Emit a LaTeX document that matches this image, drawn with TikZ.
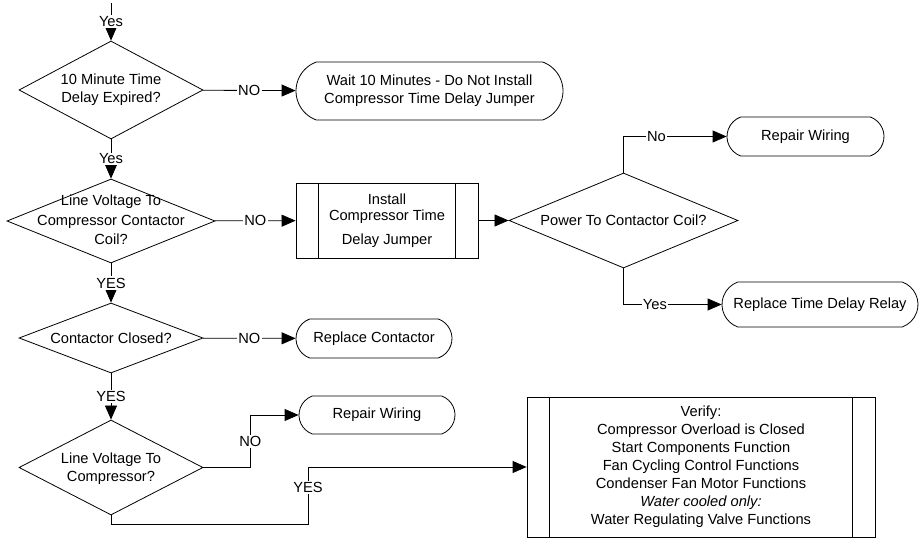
\documentclass[tikz,border=0pt]{standalone}
\usepackage{fontspec}
\setmainfont{Liberation Sans}
\usepackage{tikz}
\usetikzlibrary{shapes.geometric,shapes.misc,arrows.meta}
\tikzset{decision node/.style 2 args={diamond,draw,inner sep=0pt,minimum width=#1*0.75pt,minimum height=#2*0.75pt},
	question/.style={align=center,inner sep=0pt},
	end node/.style 2 args={rounded rectangle,rounded rectangle arc length=140,draw,align=center,inner sep=0pt,minimum width=#1*0.75pt,minimum height=#2*0.75pt},
	process node/.style 2 args={rectangle,draw,align=center,inner sep=0pt,minimum width=#1*0.75pt,minimum height=#2*0.75pt,
		path picture={
			\draw ([xshift=17pt]path picture bounding box.north west) -- ([xshift=17pt]path picture bounding box.south west);
			\draw ([xshift=-17pt]path picture bounding box.north east) -- ([xshift=-17pt]path picture bounding box.south east);}},
	line label/.style={fill=white,inner sep=1pt},
	flow/.style={draw,->},
}

\begin{document}
\begin{tikzpicture}[x=0.75pt,y=-0.75pt,line width=0.6pt,>={Triangle[length=10.5pt,width=9pt]},font=\fontsize{11}{13.5}\selectfont]
	\useasboundingbox (0,0) rectangle (922,538);
	
	%% decisions
	\node[decision node={184}{98}] (q1) at (111,90) {};
	\node[question] (q1 text) at (q1) {10 Minute Time\\Delay Expired?};
	\node[decision node={208}{84}] (q2) at (111,221) {};
	\node[question] (q2 text) at (111,220) {Line Voltage To\\[1pt]Compressor Contactor\\[1pt]Coil?};
	\node[decision node={229}{95}] (q3) at (623.5,220.5) {};
	\node[question] (q3 text) at (q3) {Power To Contactor Coil?};
	\node[decision node={184}{70}] (q4) at (111,338) {};
	\node[question] (q4 text) at (q4) {Contactor Closed?};
	\node[decision node={184}{95}] (q5) at (111,467.5) {};
	\node[question] (q5 text) at (111,469) {Line Voltage To\\Compressor?};
	
	%% results
	\node[end node={267}{58}] (t1) at (429.5,91) {Wait 10 Minutes - Do Not Install\\Compressor Time Delay Jumper};
	\node[end node={157}{39}] (t2) at (805.5,136.5) {Repair Wiring};
	\node[end node={196}{45}] (t3) at (820,304.5) {Replace Time Delay Relay};
	\node[end node={156}{39}] (t4) at (374,338.5) {Replace Contactor};
	\node[end node={156}{38}] (t5) at (377,415) {Repair Wiring};
	
	%% processes
	\node[process node={182}{75}] (p1) at (387,220.5) {Install\\[-1.5pt]Compressor Time\\[4.5pt]Delay Jumper};
	\node[process node={348}{140}] (p2) at (701,467) {Verify:\\Compressor Overload is Closed\\Start Components Function\\Fan Cycling Control Functions\\Condenser Fan Motor Functions\\\textit{Water cooled only:}\\Water Regulating Valve Functions};
	
	\coordinate (start) at (111,3);
	
	\path
	(start) edge[flow] node[line label] {Yes} (q1)
	(q1) edge[flow] node[line label] {Yes} (q2)
	(q1) edge[flow] node[line label] {NO} (t1)
	(q2) edge[flow] node[line label] {NO} (p1)
	(q2) edge[flow] node[line label] {YES} (q4)
	(p1) edge[flow] (q3)
	(q4) edge[flow] node[line label] {NO} (t4)
	(q4) edge[flow] node[line label] {YES} (q5)
	;
	
	\draw[flow] (q3.north) |- node[line label,pos=0.66] {No} (t2.west);
	\draw[flow] (q3.south) |- node[line label,pos=0.66] {Yes} (t3.west);
	\draw[flow] (q5.east) -- ++(47,0) |- node[line label,pos=0.25] {NO} (t5.west);
	\draw[flow] (q5.south) -- ++(0,9) -- ++(197,0) |- node[line label,pos=0.32] {YES} (p2.west);
\end{tikzpicture}
\end{document}
